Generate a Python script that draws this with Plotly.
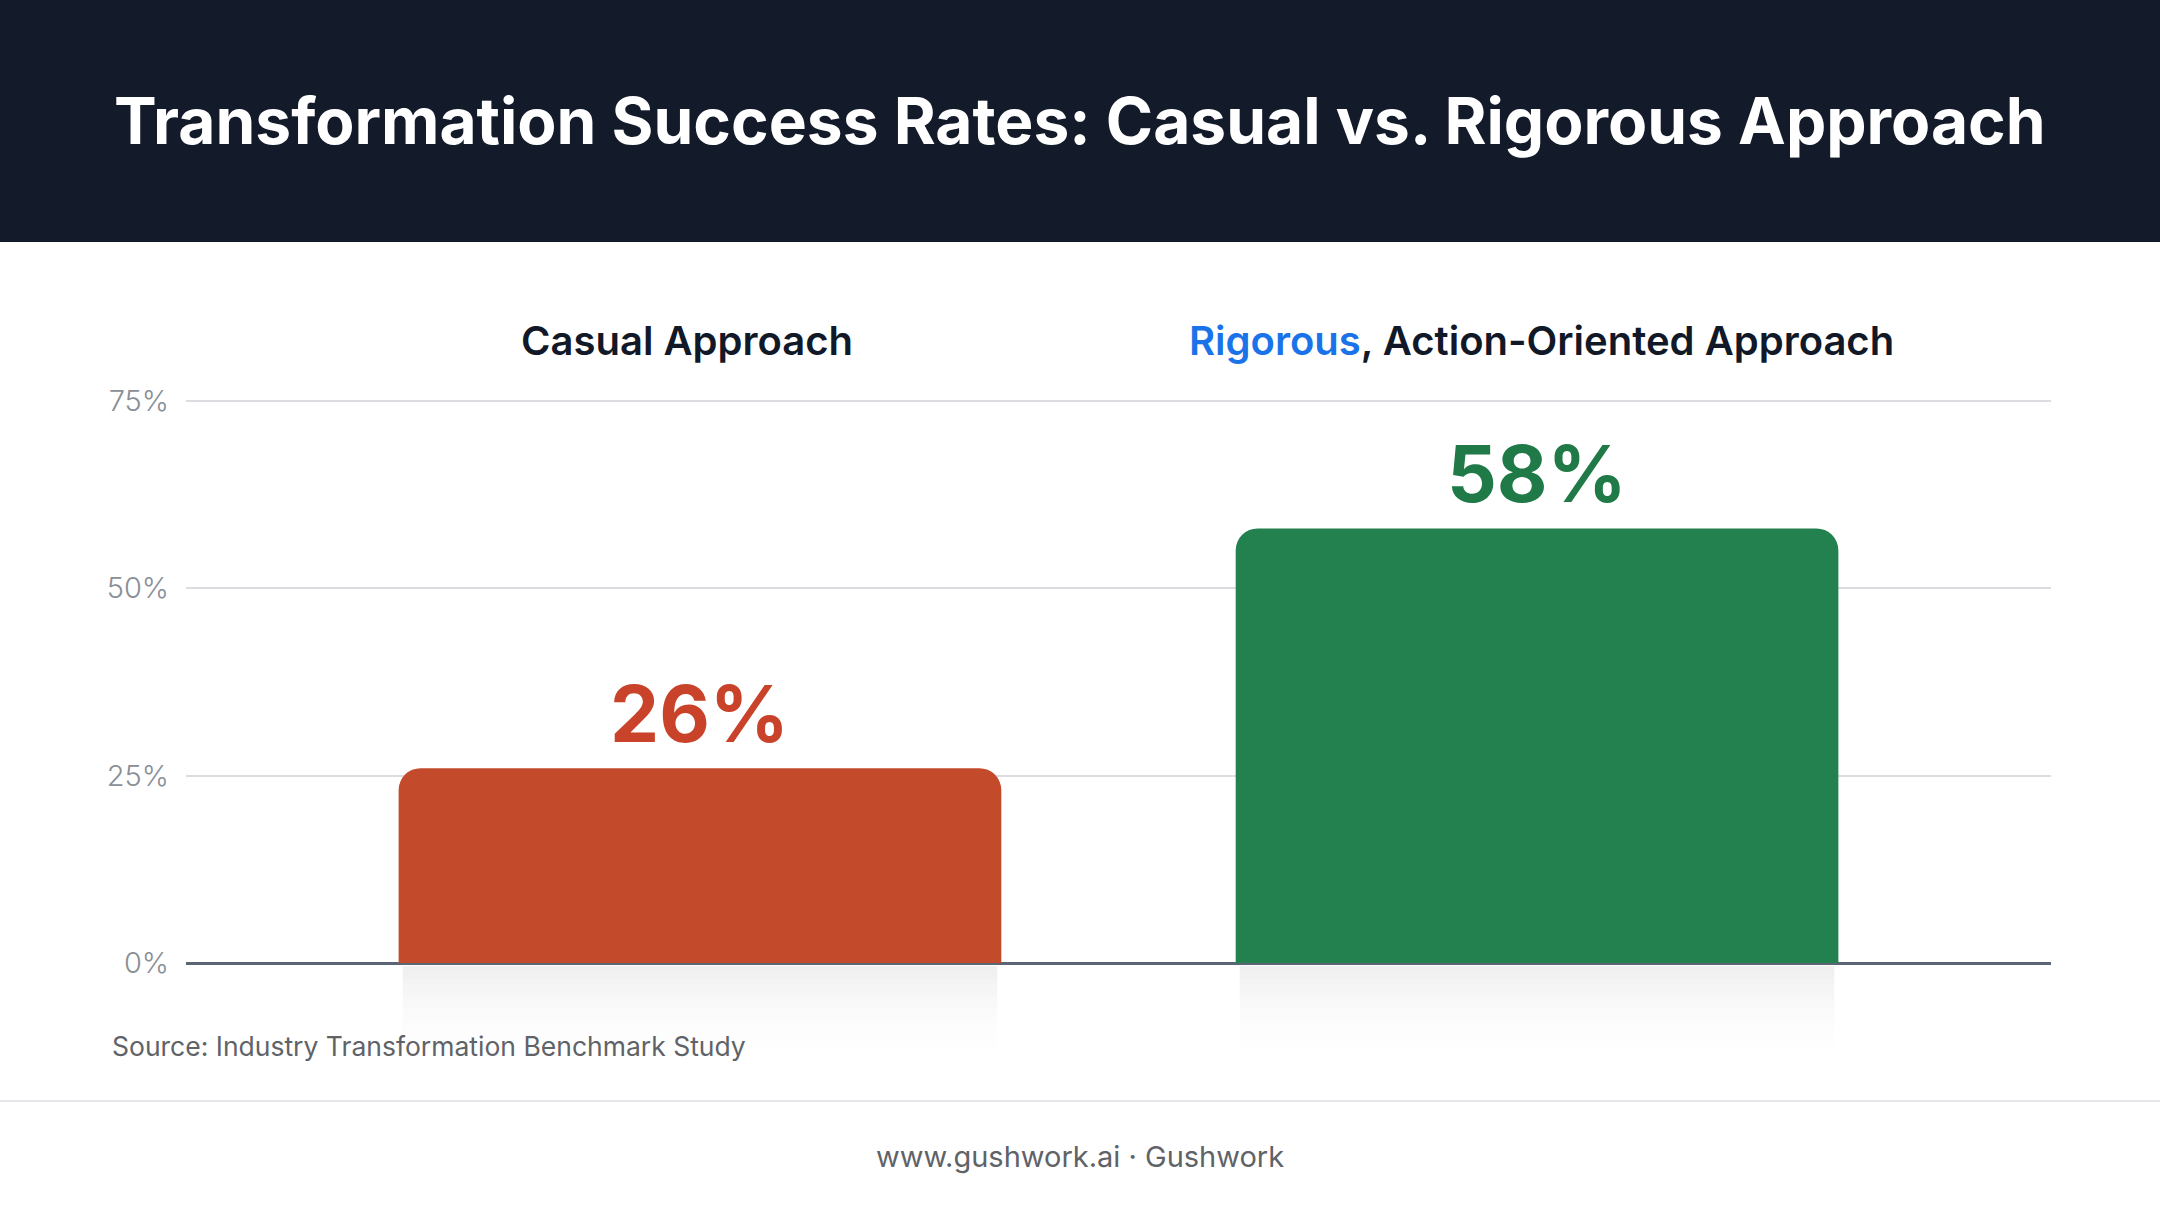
import plotly.graph_objects as go

# data
categories = ["Casual Approach", "Rigorous, Action-Oriented Approach"]
category_titles = ["Casual Approach",
                   "<span style='color:#1a73e8'>Rigorous</span>, Action-Oriented Approach"]
success_rates = [26, 58]
bar_colors = ["#c44a2c", "#23804f"]
label_colors = ["#c9432a", "#1f7a48"]
tick_values = [0, 25, 50, 75]
tick_labels = ["0%", "25%", "50%", "75%"]

W, H = 2160, 1206
L, R, T, B = 186, 109, 398, 243
plot_w = W - L - R
plot_h = H - T - B
# 75% grid line sits at 401px, zero at 963px
y_top = 75 * plot_h / 562
FONT = "Inter"


def px_x(px):
    return (px - L) / plot_w


def px_y(py):
    return (H - B - py) / plot_h


xpos = list(range(len(categories)))
bar_width = 0.72
title_shift = [-13, 4]

fig = go.Figure()
fig.add_trace(go.Bar(
    x=xpos,
    y=success_rates,
    width=bar_width,
    marker=dict(color=bar_colors, cornerradius=22, line=dict(width=0)),
    hoverinfo="skip",
))

# header band
fig.add_shape(type="rect", xref="paper", yref="paper",
              x0=px_x(0), x1=px_x(W), y0=px_y(242), y1=px_y(0),
              fillcolor="#131a2a", line=dict(width=0), layer="below")
# footer separator
fig.add_shape(type="line", xref="paper", yref="paper",
              x0=px_x(0), x1=px_x(W), y0=px_y(1101), y1=px_y(1101),
              line=dict(color="#e6e7ea", width=2))

# soft shadows under bars
x_min, x_max = -0.614, 1.614
unit = plot_w / (x_max - x_min)
for i in xpos:
    cx = L + (i - x_min) * unit
    half = bar_width * unit / 2
    for k in range(16):
        fig.add_shape(type="rect", xref="paper", yref="paper",
                      x0=px_x(cx - half + 4), x1=px_x(cx + half - 4),
                      y0=px_y(H - B + 3 + k * 6), y1=px_y(H - B + 3 + (k + 1) * 6),
                      fillcolor="rgba(0,0,0,%.3f)" % (0.06 * (1 - k / 16) ** 2),
                      line=dict(width=0), layer="below")

fig.add_annotation(text="<b>Transformation Success Rates: Casual vs. Rigorous Approach</b>",
                   xref="paper", yref="paper", x=px_x(W / 2), y=px_y(120),
                   xanchor="center", yanchor="middle", showarrow=False,
                   font=dict(family=FONT, size=64, color="#ffffff"))

for i, (title, val) in enumerate(zip(category_titles, success_rates)):
    fig.add_annotation(text=title, xref="x", yref="paper", x=i, y=px_y(341),
                       xanchor="center", yanchor="middle", xshift=title_shift[i],
                       showarrow=False,
                       font=dict(family=FONT, size=40, color="#111827", weight=600))
    fig.add_annotation(text="<b>%d%%</b>" % val, xref="x", yref="y", x=i, y=val,
                       xanchor="center", yanchor="bottom", yshift=5, showarrow=False,
                       font=dict(family=FONT, size=78, color=label_colors[i]))

fig.add_annotation(text="Source: Industry Transformation Benchmark Study",
                   xref="paper", yref="paper", x=px_x(110), y=px_y(1046),
                   xanchor="left", yanchor="middle", showarrow=False,
                   font=dict(family=FONT, size=26.5, color="#5f6368"))
fig.add_annotation(text="www.gushwork.ai · Gushwork",
                   xref="paper", yref="paper", x=px_x(W / 2), y=px_y(1156),
                   xanchor="center", yanchor="middle", showarrow=False,
                   font=dict(family=FONT, size=29, color="#5f6368"))

fig.update_layout(
    width=W, height=H,
    margin=dict(l=L, r=R, t=T, b=B),
    paper_bgcolor="#ffffff", plot_bgcolor="#ffffff",
    showlegend=False,
    xaxis=dict(range=[x_min, x_max], showgrid=False, showticklabels=False,
               zeroline=False, showline=False, fixedrange=True),
    yaxis=dict(range=[0, y_top], tickvals=tick_values, ticktext=tick_labels,
               showgrid=True, gridcolor="#dcdde0", gridwidth=2,
               zeroline=True, zerolinecolor="#5b6573", zerolinewidth=3,
               showline=False, ticks="", ticklabelstandoff=16,
               tickfont=dict(family=FONT, size=29, color="#8a8f96", weight=300)),
)

fig.write_html("out.html", config={"displayModeBar": False},
               post_script="document.body.style.margin='0';")
